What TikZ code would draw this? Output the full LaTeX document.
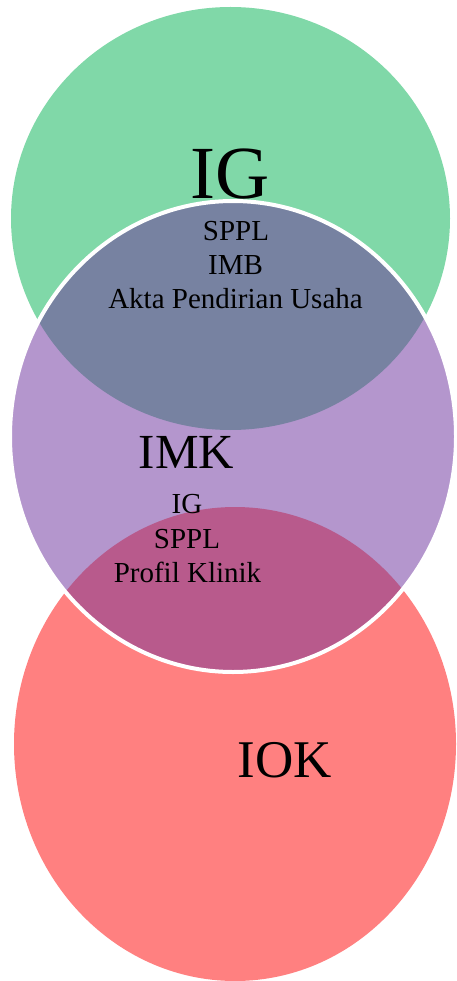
\documentclass[tikz,border=0pt]{standalone}
\usepackage{fontspec}
\setmainfont{Liberation Serif}
\definecolor{cgreen}{RGB}{128,216,168}
\definecolor{cpurple}{RGB}{180,150,205}
\definecolor{cred}{RGB}{255,128,128}
\definecolor{cgp}{RGB}{119,130,161}
\definecolor{crp}{RGB}{184,90,140}
\begin{document}
\begin{tikzpicture}[x=1pt,y=-1pt,
  lbl/.style={anchor=base,inner sep=0pt,text=black}]
\useasboundingbox (0,0) rectangle (456,981);
% base circles
\fill[cgreen] (230.5,218.5) ellipse [x radius=219.5, y radius=211.5];
\fill[cred] (235,744) ellipse [x radius=221, y radius=237];
\fill[cpurple] (233,436.5) ellipse [x radius=223, y radius=235.5];
% overlaps
\begin{scope}
  \clip (233,436.5) ellipse [x radius=223, y radius=235.5];
  \fill[cgp] (230.5,218.5) ellipse [x radius=219.5, y radius=211.5];
  \fill[crp] (235,744) ellipse [x radius=221, y radius=237];
\end{scope}
\draw[white,line width=4pt] (233,436.5) ellipse [x radius=223, y radius=235.5];
% labels
\node[lbl,font=\fontsize{75}{80}\selectfont] (ig) at (230.5,199) {IG};
\node[lbl,font=\fontsize{29}{34}\selectfont] (a1) at (236,241) {SPPL};
\node[lbl,font=\fontsize{29}{34}\selectfont] (a2) at (235.5,274) {IMB};
\node[lbl,font=\fontsize{29}{34}\selectfont] (a3) at (235.5,308) {Akta Pendirian Usaha};
\node[lbl,font=\fontsize{49}{54}\selectfont] (imk) at (186.5,468) {IMK};
\node[lbl,font=\fontsize{29}{34}\selectfont] (b1) at (187,513) {IG};
\node[lbl,font=\fontsize{29}{34}\selectfont] (b2) at (187,548) {SPPL};
\node[lbl,font=\fontsize{29}{34}\selectfont] (b3) at (187.5,582) {Profil Klinik};
\node[lbl,font=\fontsize{53}{58}\selectfont] (iok) at (285,777) {IOK};
\end{tikzpicture}
\end{document}
